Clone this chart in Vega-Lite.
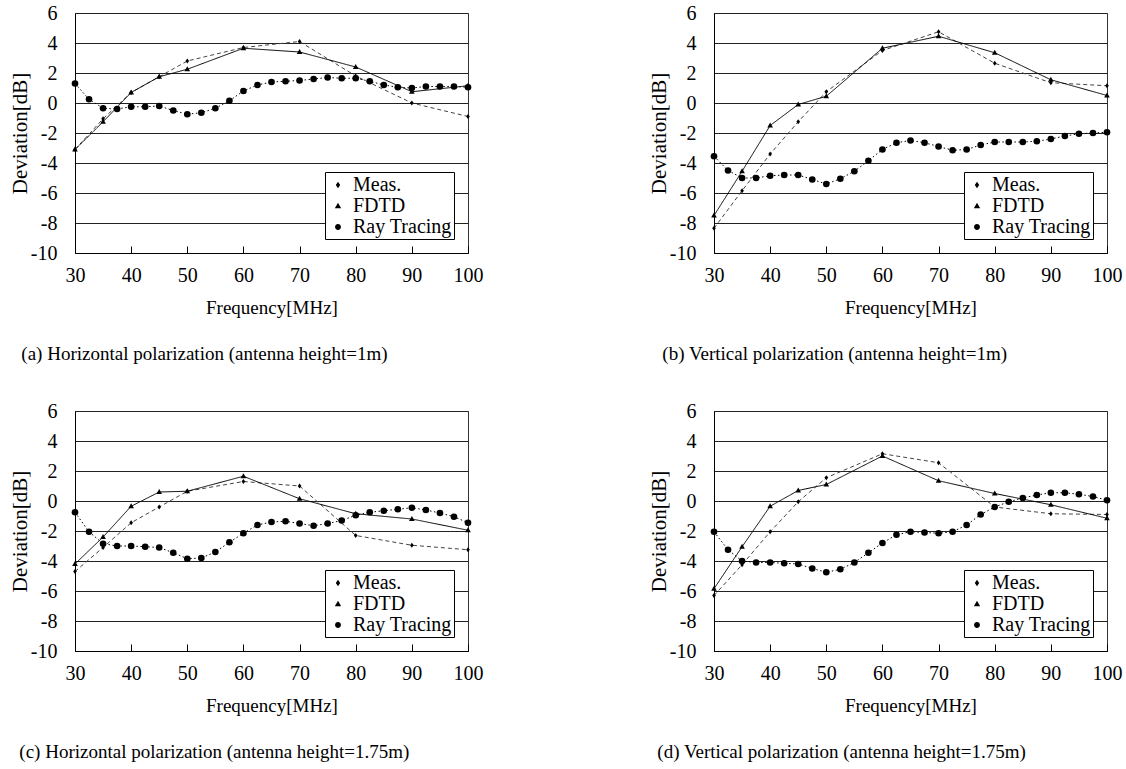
{
  "$schema": "https://vega.github.io/schema/vega-lite/v6.json",
  "background": "white",
  "padding": {"left": 8, "top": 2, "right": 5, "bottom": 2},
  "columns": 2,
  "spacing": {"column": 163, "row": 35},
  "datasets": {
    "a": [
      {"s": "Meas.", "f": 30, "v": -3.1}, {"s": "Meas.", "f": 35, "v": -1.05}, {"s": "Meas.", "f": 40, "v": 0.7}, {"s": "Meas.", "f": 45, "v": 1.75}, {"s": "Meas.", "f": 50, "v": 2.8}, {"s": "Meas.", "f": 60, "v": 3.7}, {"s": "Meas.", "f": 70, "v": 4.1}, {"s": "Meas.", "f": 80, "v": 1.8}, {"s": "Meas.", "f": 90, "v": 0.0}, {"s": "Meas.", "f": 100, "v": -0.9},
      {"s": "FDTD", "f": 30, "v": -3.1}, {"s": "FDTD", "f": 35, "v": -1.25}, {"s": "FDTD", "f": 40, "v": 0.7}, {"s": "FDTD", "f": 45, "v": 1.75}, {"s": "FDTD", "f": 50, "v": 2.25}, {"s": "FDTD", "f": 60, "v": 3.65}, {"s": "FDTD", "f": 70, "v": 3.4}, {"s": "FDTD", "f": 80, "v": 2.4}, {"s": "FDTD", "f": 90, "v": 0.75}, {"s": "FDTD", "f": 100, "v": 1.15},
      {"s": "Ray Tracing", "f": 30, "v": 1.3}, {"s": "Ray Tracing", "f": 32.5, "v": 0.25}, {"s": "Ray Tracing", "f": 35, "v": -0.35}, {"s": "Ray Tracing", "f": 37.5, "v": -0.4}, {"s": "Ray Tracing", "f": 40, "v": -0.25}, {"s": "Ray Tracing", "f": 42.5, "v": -0.25}, {"s": "Ray Tracing", "f": 45, "v": -0.2}, {"s": "Ray Tracing", "f": 47.5, "v": -0.5}, {"s": "Ray Tracing", "f": 50, "v": -0.75}, {"s": "Ray Tracing", "f": 52.5, "v": -0.65}, {"s": "Ray Tracing", "f": 55, "v": -0.35}, {"s": "Ray Tracing", "f": 57.5, "v": 0.15}, {"s": "Ray Tracing", "f": 60, "v": 0.8}, {"s": "Ray Tracing", "f": 62.5, "v": 1.2}, {"s": "Ray Tracing", "f": 65, "v": 1.4}, {"s": "Ray Tracing", "f": 67.5, "v": 1.45}, {"s": "Ray Tracing", "f": 70, "v": 1.5}, {"s": "Ray Tracing", "f": 72.5, "v": 1.6}, {"s": "Ray Tracing", "f": 75, "v": 1.7}, {"s": "Ray Tracing", "f": 77.5, "v": 1.65}, {"s": "Ray Tracing", "f": 80, "v": 1.65}, {"s": "Ray Tracing", "f": 82.5, "v": 1.45}, {"s": "Ray Tracing", "f": 85, "v": 1.2}, {"s": "Ray Tracing", "f": 87.5, "v": 1.05}, {"s": "Ray Tracing", "f": 90, "v": 1.0}, {"s": "Ray Tracing", "f": 92.5, "v": 1.1}, {"s": "Ray Tracing", "f": 95, "v": 1.1}, {"s": "Ray Tracing", "f": 97.5, "v": 1.1}, {"s": "Ray Tracing", "f": 100, "v": 1.05}
    ],
    "b": [
      {"s": "Meas.", "f": 30, "v": -8.35}, {"s": "Meas.", "f": 35, "v": -5.85}, {"s": "Meas.", "f": 40, "v": -3.4}, {"s": "Meas.", "f": 45, "v": -1.25}, {"s": "Meas.", "f": 50, "v": 0.75}, {"s": "Meas.", "f": 60, "v": 3.5}, {"s": "Meas.", "f": 70, "v": 4.75}, {"s": "Meas.", "f": 80, "v": 2.65}, {"s": "Meas.", "f": 90, "v": 1.35}, {"s": "Meas.", "f": 100, "v": 1.15},
      {"s": "FDTD", "f": 30, "v": -7.5}, {"s": "FDTD", "f": 35, "v": -4.55}, {"s": "FDTD", "f": 40, "v": -1.5}, {"s": "FDTD", "f": 45, "v": -0.1}, {"s": "FDTD", "f": 50, "v": 0.45}, {"s": "FDTD", "f": 60, "v": 3.65}, {"s": "FDTD", "f": 70, "v": 4.45}, {"s": "FDTD", "f": 80, "v": 3.35}, {"s": "FDTD", "f": 90, "v": 1.55}, {"s": "FDTD", "f": 100, "v": 0.5},
      {"s": "Ray Tracing", "f": 30, "v": -3.55}, {"s": "Ray Tracing", "f": 32.5, "v": -4.5}, {"s": "Ray Tracing", "f": 35, "v": -5.0}, {"s": "Ray Tracing", "f": 37.5, "v": -5.0}, {"s": "Ray Tracing", "f": 40, "v": -4.85}, {"s": "Ray Tracing", "f": 42.5, "v": -4.8}, {"s": "Ray Tracing", "f": 45, "v": -4.8}, {"s": "Ray Tracing", "f": 47.5, "v": -5.1}, {"s": "Ray Tracing", "f": 50, "v": -5.4}, {"s": "Ray Tracing", "f": 52.5, "v": -5.05}, {"s": "Ray Tracing", "f": 55, "v": -4.55}, {"s": "Ray Tracing", "f": 57.5, "v": -3.85}, {"s": "Ray Tracing", "f": 60, "v": -3.1}, {"s": "Ray Tracing", "f": 62.5, "v": -2.65}, {"s": "Ray Tracing", "f": 65, "v": -2.5}, {"s": "Ray Tracing", "f": 67.5, "v": -2.65}, {"s": "Ray Tracing", "f": 70, "v": -2.9}, {"s": "Ray Tracing", "f": 72.5, "v": -3.15}, {"s": "Ray Tracing", "f": 75, "v": -3.1}, {"s": "Ray Tracing", "f": 77.5, "v": -2.8}, {"s": "Ray Tracing", "f": 80, "v": -2.6}, {"s": "Ray Tracing", "f": 82.5, "v": -2.6}, {"s": "Ray Tracing", "f": 85, "v": -2.6}, {"s": "Ray Tracing", "f": 87.5, "v": -2.55}, {"s": "Ray Tracing", "f": 90, "v": -2.4}, {"s": "Ray Tracing", "f": 92.5, "v": -2.2}, {"s": "Ray Tracing", "f": 95, "v": -2.05}, {"s": "Ray Tracing", "f": 97.5, "v": -2.0}, {"s": "Ray Tracing", "f": 100, "v": -1.95}
    ],
    "c": [
      {"s": "Meas.", "f": 30, "v": -4.7}, {"s": "Meas.", "f": 35, "v": -3.1}, {"s": "Meas.", "f": 40, "v": -1.45}, {"s": "Meas.", "f": 45, "v": -0.4}, {"s": "Meas.", "f": 50, "v": 0.65}, {"s": "Meas.", "f": 60, "v": 1.3}, {"s": "Meas.", "f": 70, "v": 1.0}, {"s": "Meas.", "f": 80, "v": -2.3}, {"s": "Meas.", "f": 90, "v": -2.95}, {"s": "Meas.", "f": 100, "v": -3.25},
      {"s": "FDTD", "f": 30, "v": -4.2}, {"s": "FDTD", "f": 35, "v": -2.4}, {"s": "FDTD", "f": 40, "v": -0.35}, {"s": "FDTD", "f": 45, "v": 0.6}, {"s": "FDTD", "f": 50, "v": 0.65}, {"s": "FDTD", "f": 60, "v": 1.65}, {"s": "FDTD", "f": 70, "v": 0.15}, {"s": "FDTD", "f": 80, "v": -0.85}, {"s": "FDTD", "f": 90, "v": -1.2}, {"s": "FDTD", "f": 100, "v": -1.95},
      {"s": "Ray Tracing", "f": 30, "v": -0.75}, {"s": "Ray Tracing", "f": 32.5, "v": -2.05}, {"s": "Ray Tracing", "f": 35, "v": -2.85}, {"s": "Ray Tracing", "f": 37.5, "v": -3.0}, {"s": "Ray Tracing", "f": 40, "v": -3.0}, {"s": "Ray Tracing", "f": 42.5, "v": -3.05}, {"s": "Ray Tracing", "f": 45, "v": -3.1}, {"s": "Ray Tracing", "f": 47.5, "v": -3.45}, {"s": "Ray Tracing", "f": 50, "v": -3.85}, {"s": "Ray Tracing", "f": 52.5, "v": -3.8}, {"s": "Ray Tracing", "f": 55, "v": -3.4}, {"s": "Ray Tracing", "f": 57.5, "v": -2.75}, {"s": "Ray Tracing", "f": 60, "v": -2.15}, {"s": "Ray Tracing", "f": 62.5, "v": -1.6}, {"s": "Ray Tracing", "f": 65, "v": -1.4}, {"s": "Ray Tracing", "f": 67.5, "v": -1.35}, {"s": "Ray Tracing", "f": 70, "v": -1.5}, {"s": "Ray Tracing", "f": 72.5, "v": -1.65}, {"s": "Ray Tracing", "f": 75, "v": -1.5}, {"s": "Ray Tracing", "f": 77.5, "v": -1.3}, {"s": "Ray Tracing", "f": 80, "v": -0.95}, {"s": "Ray Tracing", "f": 82.5, "v": -0.75}, {"s": "Ray Tracing", "f": 85, "v": -0.65}, {"s": "Ray Tracing", "f": 87.5, "v": -0.55}, {"s": "Ray Tracing", "f": 90, "v": -0.45}, {"s": "Ray Tracing", "f": 92.5, "v": -0.6}, {"s": "Ray Tracing", "f": 95, "v": -0.8}, {"s": "Ray Tracing", "f": 97.5, "v": -1.05}, {"s": "Ray Tracing", "f": 100, "v": -1.45}
    ],
    "d": [
      {"s": "Meas.", "f": 30, "v": -6.3}, {"s": "Meas.", "f": 35, "v": -4.25}, {"s": "Meas.", "f": 40, "v": -2.05}, {"s": "Meas.", "f": 45, "v": -0.05}, {"s": "Meas.", "f": 50, "v": 1.55}, {"s": "Meas.", "f": 60, "v": 3.15}, {"s": "Meas.", "f": 70, "v": 2.55}, {"s": "Meas.", "f": 80, "v": -0.4}, {"s": "Meas.", "f": 90, "v": -0.85}, {"s": "Meas.", "f": 100, "v": -0.9},
      {"s": "FDTD", "f": 30, "v": -5.85}, {"s": "FDTD", "f": 35, "v": -3.05}, {"s": "FDTD", "f": 40, "v": -0.35}, {"s": "FDTD", "f": 45, "v": 0.7}, {"s": "FDTD", "f": 50, "v": 1.1}, {"s": "FDTD", "f": 60, "v": 3.0}, {"s": "FDTD", "f": 70, "v": 1.35}, {"s": "FDTD", "f": 80, "v": 0.5}, {"s": "FDTD", "f": 90, "v": -0.25}, {"s": "FDTD", "f": 100, "v": -1.15},
      {"s": "Ray Tracing", "f": 30, "v": -2.05}, {"s": "Ray Tracing", "f": 32.5, "v": -3.25}, {"s": "Ray Tracing", "f": 35, "v": -4.0}, {"s": "Ray Tracing", "f": 37.5, "v": -4.1}, {"s": "Ray Tracing", "f": 40, "v": -4.1}, {"s": "Ray Tracing", "f": 42.5, "v": -4.15}, {"s": "Ray Tracing", "f": 45, "v": -4.2}, {"s": "Ray Tracing", "f": 47.5, "v": -4.5}, {"s": "Ray Tracing", "f": 50, "v": -4.75}, {"s": "Ray Tracing", "f": 52.5, "v": -4.55}, {"s": "Ray Tracing", "f": 55, "v": -4.1}, {"s": "Ray Tracing", "f": 57.5, "v": -3.45}, {"s": "Ray Tracing", "f": 60, "v": -2.8}, {"s": "Ray Tracing", "f": 62.5, "v": -2.25}, {"s": "Ray Tracing", "f": 65, "v": -2.05}, {"s": "Ray Tracing", "f": 67.5, "v": -2.1}, {"s": "Ray Tracing", "f": 70, "v": -2.15}, {"s": "Ray Tracing", "f": 72.5, "v": -2.05}, {"s": "Ray Tracing", "f": 75, "v": -1.6}, {"s": "Ray Tracing", "f": 77.5, "v": -0.9}, {"s": "Ray Tracing", "f": 80, "v": -0.4}, {"s": "Ray Tracing", "f": 82.5, "v": -0.05}, {"s": "Ray Tracing", "f": 85, "v": 0.2}, {"s": "Ray Tracing", "f": 87.5, "v": 0.4}, {"s": "Ray Tracing", "f": 90, "v": 0.55}, {"s": "Ray Tracing", "f": 92.5, "v": 0.55}, {"s": "Ray Tracing", "f": 95, "v": 0.45}, {"s": "Ray Tracing", "f": 97.5, "v": 0.3}, {"s": "Ray Tracing", "f": 100, "v": 0.05}
    ]
  },
  "resolve": {"scale": {"shape": "independent", "color": "independent", "strokeDash": "independent"}, "legend": {"shape": "independent", "color": "independent", "strokeDash": "independent"}},
  "concat": [
    {
      "width": 393, "height": 240,
      "data": {"name": "a"},
      "title": {"text": "(a) Horizontal polarization (antenna height=1m)", "orient": "bottom", "anchor": "start", "dx": 12, "offset": 28},
      "resolve": {"scale": {"shape": "independent", "strokeDash": "independent"}},
      "layer": [
        {"mark": {"type": "line", "strokeWidth": 1},
         "encoding": {
           "x": {"field": "f", "type": "quantitative", "scale": {"domain": [30, 100], "nice": false, "zero": false}, "axis": {"title": "Frequency[MHz]", "values": [30, 40, 50, 60, 70, 80, 90, 100], "tickCount": 20}},
           "y": {"field": "v", "type": "quantitative", "scale": {"domain": [-10, 6], "nice": false, "zero": false}, "axis": {"title": "Deviation[dB]", "values": [-10, -8, -6, -4, -2, 0, 2, 4, 6], "tickCount": 20}},
           "color": {"field": "s", "type": "nominal", "scale": {"domain": ["Ray Tracing", "FDTD", "Meas."], "range": ["#000000", "#000000", "#444444"]}, "legend": null},
           "strokeDash": {"field": "s", "type": "nominal", "scale": {"domain": ["FDTD", "Meas.", "Ray Tracing"], "range": [[1, 0], [4, 3], [1.5, 2.5]]}, "legend": null}
         }},
        {"mark": {"type": "point", "filled": true, "color": "black", "opacity": 1, "size": 44},
         "encoding": {
           "x": {"field": "f", "type": "quantitative"},
           "y": {"field": "v", "type": "quantitative"},
           "shape": {"field": "s", "type": "nominal", "scale": {"domain": ["FDTD", "Ray Tracing", "Meas."], "range": ["M0,-0.9L0.85,0.6L-0.85,0.6Z", "circle", "M0,-0.75L0.55,0L0,0.75L-0.55,0Z"]}, "legend": null}
         }},
        {"transform": [{"filter": "false"}],
         "mark": {"type": "point", "filled": true, "color": "black", "stroke": "black", "strokeWidth": 1, "opacity": 1},
         "encoding": {
           "x": {"field": "f", "type": "quantitative"},
           "y": {"field": "v", "type": "quantitative"},
           "shape": {"field": "s", "type": "nominal", "scale": {"domain": ["Meas.", "FDTD", "Ray Tracing"], "range": ["M-1,0H1M0,-0.3L0.21,0L0,0.3L-0.21,0Z", "M-1,0H1M0,-0.3L0.3,0.22L-0.3,0.22Z", "M-1,0H1M-0.28,0A0.28,0.28,0,1,0,0.28,0A0.28,0.28,0,1,0,-0.28,0Z"]},
             "legend": {"title": null, "orient": "bottom-right", "offset": 14, "strokeColor": "black", "fillColor": "white", "padding": 2, "rowPadding": 0, "labelFont": "Liberation Serif", "labelFontSize": 20, "labelColor": "black", "labelOffset": 4, "symbolSize": 441, "symbolStrokeWidth": 1, "symbolFillColor": "black", "symbolStrokeColor": "black", "symbolOpacity": 1}},
           "strokeDash": {"field": "s", "type": "nominal", "scale": {"domain": ["Meas.", "FDTD", "Ray Tracing"], "range": [[3, 2], [1, 0], [1.5, 2]]},
             "legend": {"title": null, "orient": "bottom-right", "offset": 14, "strokeColor": "black", "fillColor": "white", "padding": 2, "rowPadding": 0, "labelFont": "Liberation Serif", "labelFontSize": 20, "labelColor": "black", "labelOffset": 4, "symbolSize": 441, "symbolStrokeWidth": 1, "symbolFillColor": "black", "symbolStrokeColor": "black", "symbolOpacity": 1}}
         }}
      ]
    },
    {
      "width": 393, "height": 240,
      "data": {"name": "b"},
      "title": {"text": "(b) Vertical polarization (antenna height=1m)", "orient": "bottom", "anchor": "start", "dx": 14, "offset": 28},
      "resolve": {"scale": {"shape": "independent", "strokeDash": "independent"}},
      "layer": [
        {"mark": {"type": "line", "strokeWidth": 1},
         "encoding": {
           "x": {"field": "f", "type": "quantitative", "scale": {"domain": [30, 100], "nice": false, "zero": false}, "axis": {"title": "Frequency[MHz]", "values": [30, 40, 50, 60, 70, 80, 90, 100], "tickCount": 20}},
           "y": {"field": "v", "type": "quantitative", "scale": {"domain": [-10, 6], "nice": false, "zero": false}, "axis": {"title": "Deviation[dB]", "values": [-10, -8, -6, -4, -2, 0, 2, 4, 6], "tickCount": 20}},
           "color": {"field": "s", "type": "nominal", "scale": {"domain": ["Ray Tracing", "FDTD", "Meas."], "range": ["#000000", "#000000", "#444444"]}, "legend": null},
           "strokeDash": {"field": "s", "type": "nominal", "scale": {"domain": ["FDTD", "Meas.", "Ray Tracing"], "range": [[1, 0], [4, 3], [1.5, 2.5]]}, "legend": null}
         }},
        {"mark": {"type": "point", "filled": true, "color": "black", "opacity": 1, "size": 44},
         "encoding": {
           "x": {"field": "f", "type": "quantitative"},
           "y": {"field": "v", "type": "quantitative"},
           "shape": {"field": "s", "type": "nominal", "scale": {"domain": ["FDTD", "Ray Tracing", "Meas."], "range": ["M0,-0.9L0.85,0.6L-0.85,0.6Z", "circle", "M0,-0.75L0.55,0L0,0.75L-0.55,0Z"]}, "legend": null}
         }},
        {"transform": [{"filter": "false"}],
         "mark": {"type": "point", "filled": true, "color": "black", "stroke": "black", "strokeWidth": 1, "opacity": 1},
         "encoding": {
           "x": {"field": "f", "type": "quantitative"},
           "y": {"field": "v", "type": "quantitative"},
           "shape": {"field": "s", "type": "nominal", "scale": {"domain": ["Meas.", "FDTD", "Ray Tracing"], "range": ["M-1,0H1M0,-0.3L0.21,0L0,0.3L-0.21,0Z", "M-1,0H1M0,-0.3L0.3,0.22L-0.3,0.22Z", "M-1,0H1M-0.28,0A0.28,0.28,0,1,0,0.28,0A0.28,0.28,0,1,0,-0.28,0Z"]},
             "legend": {"title": null, "orient": "bottom-right", "offset": 14, "strokeColor": "black", "fillColor": "white", "padding": 2, "rowPadding": 0, "labelFont": "Liberation Serif", "labelFontSize": 20, "labelColor": "black", "labelOffset": 4, "symbolSize": 441, "symbolStrokeWidth": 1, "symbolFillColor": "black", "symbolStrokeColor": "black", "symbolOpacity": 1}},
           "strokeDash": {"field": "s", "type": "nominal", "scale": {"domain": ["Meas.", "FDTD", "Ray Tracing"], "range": [[3, 2], [1, 0], [1.5, 2]]},
             "legend": {"title": null, "orient": "bottom-right", "offset": 14, "strokeColor": "black", "fillColor": "white", "padding": 2, "rowPadding": 0, "labelFont": "Liberation Serif", "labelFontSize": 20, "labelColor": "black", "labelOffset": 4, "symbolSize": 441, "symbolStrokeWidth": 1, "symbolFillColor": "black", "symbolStrokeColor": "black", "symbolOpacity": 1}}
         }}
      ]
    },
    {
      "width": 393, "height": 240,
      "data": {"name": "c"},
      "title": {"text": "(c) Horizontal polarization (antenna height=1.75m)", "orient": "bottom", "anchor": "start", "dx": 10, "offset": 28},
      "resolve": {"scale": {"shape": "independent", "strokeDash": "independent"}},
      "layer": [
        {"mark": {"type": "line", "strokeWidth": 1},
         "encoding": {
           "x": {"field": "f", "type": "quantitative", "scale": {"domain": [30, 100], "nice": false, "zero": false}, "axis": {"title": "Frequency[MHz]", "values": [30, 40, 50, 60, 70, 80, 90, 100], "tickCount": 20}},
           "y": {"field": "v", "type": "quantitative", "scale": {"domain": [-10, 6], "nice": false, "zero": false}, "axis": {"title": "Deviation[dB]", "values": [-10, -8, -6, -4, -2, 0, 2, 4, 6], "tickCount": 20}},
           "color": {"field": "s", "type": "nominal", "scale": {"domain": ["Ray Tracing", "FDTD", "Meas."], "range": ["#000000", "#000000", "#444444"]}, "legend": null},
           "strokeDash": {"field": "s", "type": "nominal", "scale": {"domain": ["FDTD", "Meas.", "Ray Tracing"], "range": [[1, 0], [4, 3], [1.5, 2.5]]}, "legend": null}
         }},
        {"mark": {"type": "point", "filled": true, "color": "black", "opacity": 1, "size": 44},
         "encoding": {
           "x": {"field": "f", "type": "quantitative"},
           "y": {"field": "v", "type": "quantitative"},
           "shape": {"field": "s", "type": "nominal", "scale": {"domain": ["FDTD", "Ray Tracing", "Meas."], "range": ["M0,-0.9L0.85,0.6L-0.85,0.6Z", "circle", "M0,-0.75L0.55,0L0,0.75L-0.55,0Z"]}, "legend": null}
         }},
        {"transform": [{"filter": "false"}],
         "mark": {"type": "point", "filled": true, "color": "black", "stroke": "black", "strokeWidth": 1, "opacity": 1},
         "encoding": {
           "x": {"field": "f", "type": "quantitative"},
           "y": {"field": "v", "type": "quantitative"},
           "shape": {"field": "s", "type": "nominal", "scale": {"domain": ["Meas.", "FDTD", "Ray Tracing"], "range": ["M-1,0H1M0,-0.3L0.21,0L0,0.3L-0.21,0Z", "M-1,0H1M0,-0.3L0.3,0.22L-0.3,0.22Z", "M-1,0H1M-0.28,0A0.28,0.28,0,1,0,0.28,0A0.28,0.28,0,1,0,-0.28,0Z"]},
             "legend": {"title": null, "orient": "bottom-right", "offset": 14, "strokeColor": "black", "fillColor": "white", "padding": 2, "rowPadding": 0, "labelFont": "Liberation Serif", "labelFontSize": 20, "labelColor": "black", "labelOffset": 4, "symbolSize": 441, "symbolStrokeWidth": 1, "symbolFillColor": "black", "symbolStrokeColor": "black", "symbolOpacity": 1}},
           "strokeDash": {"field": "s", "type": "nominal", "scale": {"domain": ["Meas.", "FDTD", "Ray Tracing"], "range": [[3, 2], [1, 0], [1.5, 2]]},
             "legend": {"title": null, "orient": "bottom-right", "offset": 14, "strokeColor": "black", "fillColor": "white", "padding": 2, "rowPadding": 0, "labelFont": "Liberation Serif", "labelFontSize": 20, "labelColor": "black", "labelOffset": 4, "symbolSize": 441, "symbolStrokeWidth": 1, "symbolFillColor": "black", "symbolStrokeColor": "black", "symbolOpacity": 1}}
         }}
      ]
    },
    {
      "width": 393, "height": 240,
      "data": {"name": "d"},
      "title": {"text": "(d) Vertical polarization (antenna height=1.75m)", "orient": "bottom", "anchor": "start", "dx": 9, "offset": 28},
      "resolve": {"scale": {"shape": "independent", "strokeDash": "independent"}},
      "layer": [
        {"mark": {"type": "line", "strokeWidth": 1},
         "encoding": {
           "x": {"field": "f", "type": "quantitative", "scale": {"domain": [30, 100], "nice": false, "zero": false}, "axis": {"title": "Frequency[MHz]", "values": [30, 40, 50, 60, 70, 80, 90, 100], "tickCount": 20}},
           "y": {"field": "v", "type": "quantitative", "scale": {"domain": [-10, 6], "nice": false, "zero": false}, "axis": {"title": "Deviation[dB]", "values": [-10, -8, -6, -4, -2, 0, 2, 4, 6], "tickCount": 20}},
           "color": {"field": "s", "type": "nominal", "scale": {"domain": ["Ray Tracing", "FDTD", "Meas."], "range": ["#000000", "#000000", "#444444"]}, "legend": null},
           "strokeDash": {"field": "s", "type": "nominal", "scale": {"domain": ["FDTD", "Meas.", "Ray Tracing"], "range": [[1, 0], [4, 3], [1.5, 2.5]]}, "legend": null}
         }},
        {"mark": {"type": "point", "filled": true, "color": "black", "opacity": 1, "size": 44},
         "encoding": {
           "x": {"field": "f", "type": "quantitative"},
           "y": {"field": "v", "type": "quantitative"},
           "shape": {"field": "s", "type": "nominal", "scale": {"domain": ["FDTD", "Ray Tracing", "Meas."], "range": ["M0,-0.9L0.85,0.6L-0.85,0.6Z", "circle", "M0,-0.75L0.55,0L0,0.75L-0.55,0Z"]}, "legend": null}
         }},
        {"transform": [{"filter": "false"}],
         "mark": {"type": "point", "filled": true, "color": "black", "stroke": "black", "strokeWidth": 1, "opacity": 1},
         "encoding": {
           "x": {"field": "f", "type": "quantitative"},
           "y": {"field": "v", "type": "quantitative"},
           "shape": {"field": "s", "type": "nominal", "scale": {"domain": ["Meas.", "FDTD", "Ray Tracing"], "range": ["M-1,0H1M0,-0.3L0.21,0L0,0.3L-0.21,0Z", "M-1,0H1M0,-0.3L0.3,0.22L-0.3,0.22Z", "M-1,0H1M-0.28,0A0.28,0.28,0,1,0,0.28,0A0.28,0.28,0,1,0,-0.28,0Z"]},
             "legend": {"title": null, "orient": "bottom-right", "offset": 14, "strokeColor": "black", "fillColor": "white", "padding": 2, "rowPadding": 0, "labelFont": "Liberation Serif", "labelFontSize": 20, "labelColor": "black", "labelOffset": 4, "symbolSize": 441, "symbolStrokeWidth": 1, "symbolFillColor": "black", "symbolStrokeColor": "black", "symbolOpacity": 1}},
           "strokeDash": {"field": "s", "type": "nominal", "scale": {"domain": ["Meas.", "FDTD", "Ray Tracing"], "range": [[3, 2], [1, 0], [1.5, 2]]},
             "legend": {"title": null, "orient": "bottom-right", "offset": 14, "strokeColor": "black", "fillColor": "white", "padding": 2, "rowPadding": 0, "labelFont": "Liberation Serif", "labelFontSize": 20, "labelColor": "black", "labelOffset": 4, "symbolSize": 441, "symbolStrokeWidth": 1, "symbolFillColor": "black", "symbolStrokeColor": "black", "symbolOpacity": 1}}
         }}
      ]
    }
  ],
  "config": {
    "font": "Liberation Serif",
    "view": {"stroke": "#333333", "strokeWidth": 1},
    "axis": {"labelFont": "Liberation Serif", "titleFont": "Liberation Serif", "labelFontSize": 20, "titleFontWeight": "normal", "labelColor": "black", "titleColor": "black", "domainColor": "black", "labelFlush": false, "labelOverlap": false,
      "labelExpr": "datum.value < 0 ? '-' + abs(datum.value) : '' + datum.value"},
    "axisX": {"grid": false, "tickSize": -7, "tickColor": "black", "labelPadding": 19, "titlePadding": 13, "titleFontSize": 19},
    "axisY": {"grid": true, "gridColor": "#222222", "gridOpacity": 1, "ticks": false, "labelPadding": 18, "titlePadding": 0, "titleFontSize": 21},
    "title": {"font": "Liberation Serif", "fontSize": 19, "fontWeight": "normal", "color": "black"}
  }
}
